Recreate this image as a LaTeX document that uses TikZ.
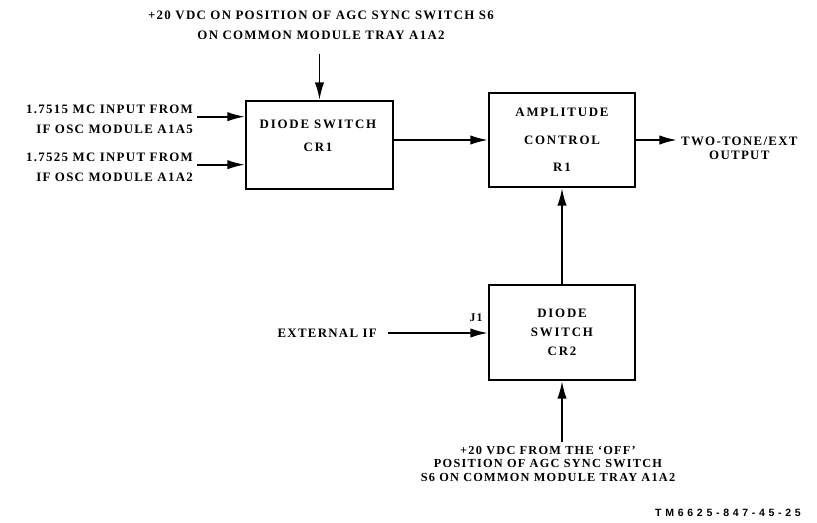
\documentclass[tikz,border=0pt]{standalone}
\usepackage{fontspec}
\setmainfont{Liberation Serif}[LetterSpace=10]
\newfontfamily\boxfont{Liberation Serif}[LetterSpace=14]
\newfontfamily\codefont{Liberation Sans}[LetterSpace=35]
\usepackage{tikz}
\usetikzlibrary{arrows.meta, positioning, calc}

\begin{document}
\begin{tikzpicture}[
  x=0.03cm, y=-0.03cm,
  blk/.style={rectangle, draw=black, line width=1.8pt, minimum width=4.41cm, align=center, font=\boxfont\bfseries\fontsize{11}{16}\selectfont, inner sep=0pt},
  txt/.style={align=center, font=\bfseries\fontsize{11}{17}\selectfont},
  arr/.style={-{Latex[length=15pt, width=8pt]}, line width=1.6pt}
]
\useasboundingbox (0,0) rectangle (817,522);
\node[txt] (top) at (321,25) {+20 VDC ON POSITION OF AGC SYNC SWITCH S6\\ON COMMON MODULE TRAY A1A2};
\node[blk, minimum height=2.64cm] (cr1) at (319.5,145) {};
\node[blk, font=\boxfont\bfseries\fontsize{11}{19.6}\selectfont, draw=none] (cr1txt) at (318,135.5) {DIODE SWITCH\\CR1};
\node[blk, minimum width=4.38cm, minimum height=2.82cm, font=\boxfont\bfseries\fontsize{11}{23.4}\selectfont] (amp) at (562,140) {AMPLITUDE\\CONTROL\\R1};
\node[blk, minimum width=4.38cm, minimum height=2.85cm] (cr2) at (562,332.5) {DIODE\\SWITCH\\CR2};
\node[txt, align=right, anchor=east] (in1) at (197,119) {1.7515 MC INPUT FROM\\IF OSC MODULE A1A5};
\node[txt, align=right, anchor=east] (in2) at (197,167) {1.7525 MC INPUT FROM\\IF OSC MODULE A1A2};
\node[txt, anchor=west, font=\bfseries\fontsize{11}{12}\selectfont] (out) at (677,148) {TWO-TONE/EXT\\OUTPUT};
\node[txt, anchor=east] (extif) at (381,333) {EXTERNAL IF};
\node[txt, font=\bfseries\fontsize{10}{12}\selectfont] (j1) at (476,318) {J1};
\node[txt, font=\bfseries\fontsize{10.5}{11.5}\selectfont] (bot) at (548,463.5) {+20 VDC FROM THE `OFF'\\POSITION OF AGC SYNC SWITCH\\S6 ON COMMON MODULE TRAY A1A2};
\node[font=\codefont\bfseries\fontsize{9}{10}\selectfont, anchor=east] (code) at (805,513) {TM6625-847-45-25};
\draw[arr, shorten <=9pt] (cr1.north |- top.south) -- (cr1.north);
\draw[arr] ([yshift=2pt]in1.east) -- ([yshift=2pt]in1.east -| cr1.west);
\draw[arr] ([yshift=2pt]in2.east) -- ([yshift=2pt]in2.east -| cr1.west);
\draw[arr] (cr1.east |- amp.west) -- (amp.west);
\draw[arr] (amp.east) -- (amp.east -| out.west);
\draw[arr] (cr2.north) -- (amp.south);
\draw[arr, shorten <=6pt] (extif.east) -- (extif.east -| cr2.west);
\draw[arr] (cr2.south |- bot.north) -- (cr2.south);
\end{tikzpicture}
\end{document}
